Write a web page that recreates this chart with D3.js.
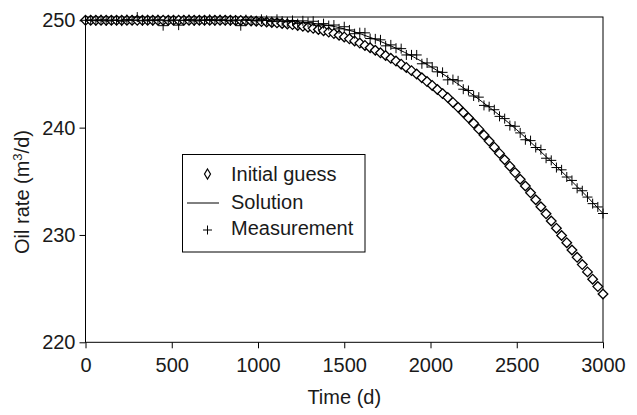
<!DOCTYPE html>
<html>
<head>
<meta charset="utf-8">
<script src="https://cdn.jsdelivr.net/npm/d3@7"></script>
<style>
  body { margin: 0; background: #fff; }
  svg text { font-family: "Liberation Sans", Arial, sans-serif; fill: #1a1a1a; }
</style>
</head>
<body>
<div id="chart"></div>
<script>
// sample times (d) for the marker series
var days = [0,30,60,90,120,150,180,210,240,270,300,330,360,390,420,450,480,510,540,570,
  600,630,660,690,720,750,780,810,840,870,900,930,960,990,1020,1050,1080,1110,1140,1170,
  1200,1230,1260,1290,1320,1350,1380,1410,1440,1470,1500,1530,1560,1590,1620,1650,1680,1710,1740,1770,
  1800,1830,1860,1890,1920,1950,1980,2010,2040,2070,2100,2130,2160,2190,2220,2250,2280,2310,2340,2370,
  2400,2430,2460,2490,2520,2550,2580,2610,2640,2670,2700,2730,2760,2790,2820,2850,2880,2910,2940,2970,3000];

var initialGuess = [250,250,250,250,250,250,250,250,250,250,250,250,250,250,250,250,250,250,250,250,
  250,250,250,250,250,250,250,250,250,249.99,249.98,249.96,249.94,249.91,249.88,249.84,249.80,249.76,249.71,249.66,
  249.60,249.52,249.44,249.35,249.25,249.14,249.03,248.90,248.76,248.61,248.45,248.27,248.08,247.88,247.66,247.44,247.21,246.97,246.72,246.46,
  246.20,245.91,245.61,245.31,244.99,244.65,244.29,243.93,243.55,243.17,242.80,242.35,241.89,241.41,240.91,240.40,239.86,239.31,238.75,238.18,
  237.60,237.01,236.41,235.81,235.19,234.56,233.93,233.28,232.63,231.97,231.30,230.63,229.95,229.28,228.60,227.92,227.24,226.56,225.88,225.19,224.50];

var measurement = [250.00,250.03,249.96,250.05,249.94,250.02,250.00,249.92,250.06,250.02,250.30,249.95,250.04,249.97,250.05,249.50,249.95,250.03,249.55,250.00,
  250.06,249.94,250.03,250.00,250.08,249.97,250.05,250.00,249.94,250.03,249.50,250.06,250.00,249.94,250.09,250.00,249.88,250.09,249.92,249.85,
  249.98,249.69,249.95,249.81,249.91,249.55,249.69,249.51,249.56,249.20,249.40,249.10,248.75,248.85,248.83,248.30,248.27,248.18,247.62,247.71,
  247.40,247.36,246.77,246.78,246.77,245.95,246.03,245.65,245.20,245.15,244.45,244.48,244.36,243.58,243.46,242.95,242.84,242.07,241.95,241.67,
  241.05,240.84,240.19,240.13,239.51,238.87,238.79,238.15,237.95,237.15,236.95,236.28,236.07,235.40,235.08,234.35,234.12,233.53,232.92,232.61,232.00];

var solutionDays = [0,100,200,300,400,500,600,700,800,900,1000,1100,1200,1300,1400,1500,1600,1700,1800,1900,
  2000,2100,2200,2300,2400,2500,2600,2700,2800,2900,3000];
var solution = [250,250,250,250,250,250,250,250,250,250,250,249.95,249.88,249.75,249.55,249.2,248.7,248.1,247.4,246.6,
  245.7,244.7,243.6,242.4,241.15,239.8,238.35,236.85,235.3,233.7,232.0];

var xTicks = [0,500,1000,1500,2000,2500,3000];
var yTicks = [220,230,240,250];
var legendItems = ["Initial guess","Solution","Measurement"];

var W = 637, H = 415;
var x = d3.scaleLinear().domain([0,3000]).range([85.5,603]);
var y = d3.scaleLinear().domain([220,250]).range([342.3,20.3]);

var svg = d3.select("#chart").append("svg")
  .attr("width", W).attr("height", H);

// plot frame
svg.append("rect")
  .attr("x", x(0)).attr("y", 17)
  .attr("width", x(3000) - x(0)).attr("height", y(220) - 17)
  .attr("fill", "none").attr("stroke", "#000").attr("stroke-width", 1);

var fs = "20px";

var gx = svg.append("g").attr("transform", "translate(0," + y(220) + ")")
  .call(d3.axisBottom(x).tickValues(xTicks).tickSize(6).tickPadding(10).tickFormat(d3.format("d")));
gx.select(".domain").remove();
gx.selectAll("line").attr("stroke", "#000");
gx.selectAll("text").style("font-size", fs).attr("fill", "#1a1a1a");

var gy = svg.append("g").attr("transform", "translate(" + x(0) + ",0)")
  .call(d3.axisLeft(y).tickValues(yTicks).tickSize(6).tickPadding(4).tickFormat(d3.format("d")));
gy.select(".domain").remove();
gy.selectAll("line").attr("stroke", "#000");
gy.selectAll("text").style("font-size", fs).attr("fill", "#1a1a1a");

// axis titles
svg.append("text")
  .attr("x", (x(0) + x(3000)) / 2).attr("y", 404)
  .attr("text-anchor", "middle").style("font-size", fs)
  .text("Time (d)");

var yt = svg.append("text")
  .attr("transform", "translate(29,192) rotate(-90)")
  .attr("text-anchor", "middle").style("font-size", fs);
yt.append("tspan").text("Oil rate (m");
yt.append("tspan").attr("dy", -7).style("font-size", "13px").text("3");
yt.append("tspan").attr("dy", 7).text("/d)");

// marker shapes
function diamond(cx, cy, hw, hh) {
  return "M" + cx + "," + (cy - hh) + "L" + (cx + hw) + "," + cy +
    "L" + cx + "," + (cy + hh) + "L" + (cx - hw) + "," + cy + "Z";
}
function cross(cx, cy, r) {
  return "M" + (cx - r) + "," + cy + "H" + (cx + r) + "M" + cx + "," + (cy - r) + "V" + (cy + r);
}

var guessData = days.map(function(d, i) { return [d, initialGuess[i]]; });
var measData = days.map(function(d, i) { return [d, measurement[i]]; });
var solData = solutionDays.map(function(d, i) { return [d, solution[i]]; });

svg.append("g").selectAll("path")
  .data(guessData).enter().append("path")
  .attr("d", function(d) { return diamond(x(d[0]), y(d[1]), 4.8, 4.8); })
  .attr("fill", "#fff").attr("stroke", "#000").attr("stroke-width", 1.3);

svg.append("path")
  .datum(solData)
  .attr("d", d3.line().x(function(d) { return x(d[0]); }).y(function(d) { return y(d[1]); })
    .curve(d3.curveMonotoneX))
  .attr("fill", "none").attr("stroke", "#000").attr("stroke-width", 1);

svg.append("g").selectAll("path")
  .data(measData).enter().append("path")
  .attr("d", function(d) { return cross(x(d[0]), y(d[1]), 5); })
  .attr("fill", "none").attr("stroke", "#000").attr("stroke-width", 1);

// legend
var lg = svg.append("g");
lg.append("rect")
  .attr("x", 182.5).attr("y", 154.5).attr("width", 182.5).attr("height", 97.5)
  .attr("fill", "#fff").attr("stroke", "#000").attr("stroke-width", 1);

var rowY = [174, 202, 228];
lg.selectAll("text.lab").data(legendItems).enter().append("text")
  .attr("class", "lab")
  .attr("x", 231).attr("y", function(d, i) { return rowY[i]; })
  .attr("dy", "0.35em").style("font-size", fs)
  .text(function(d) { return d; });

lg.append("path").attr("d", diamond(207.5, rowY[0], 3, 5))
  .attr("fill", "none").attr("stroke", "#000").attr("stroke-width", 1.2);
lg.append("line").attr("x1", 187).attr("x2", 219).attr("y1", rowY[1] + 1).attr("y2", rowY[1] + 1)
  .attr("stroke", "#000").attr("stroke-width", 1);
lg.append("path").attr("d", cross(207.5, rowY[2] + 2, 4.5))
  .attr("fill", "none").attr("stroke", "#000").attr("stroke-width", 1);
</script>
</body>
</html>
